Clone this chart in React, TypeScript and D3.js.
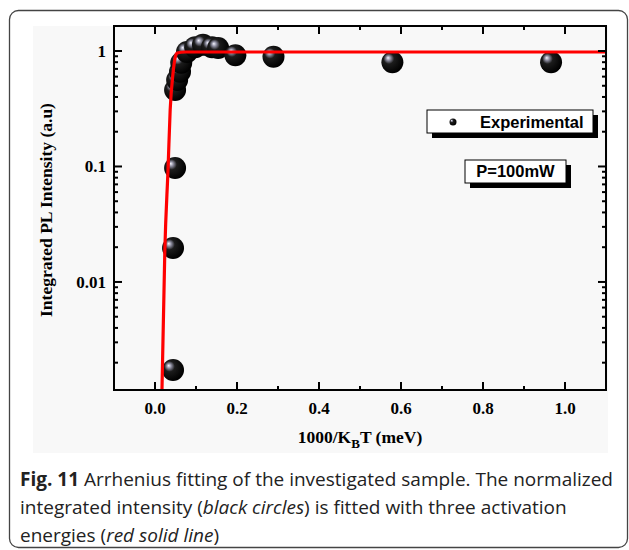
import { useMemo } from "react";
import * as d3 from "d3";

// measured points (1000/kT, normalized intensity)
const expX = [0.044, 0.044, 0.049, 0.049, 0.054, 0.061, 0.064, 0.078, 0.098, 0.117, 0.139, 0.154, 0.196, 0.289, 0.579, 0.966];
const expY = [0.00173, 0.0197, 0.097, 0.46, 0.56, 0.66, 0.79, 0.98, 1.08, 1.13, 1.08, 1.06, 0.92, 0.89, 0.8, 0.8];

// fitted curve
const fitX = [0.017, 0.024, 0.032, 0.037, 0.044, 0.049, 0.054, 0.073, 1.1];
const fitY = [0.00116, 0.0189, 0.099, 0.308, 0.645, 0.87, 0.961, 0.98, 0.98];

const xMajor = [0, 0.2, 0.4, 0.6, 0.8, 1.0];
const xMinor = [0.1, 0.3, 0.5, 0.7, 0.9];
const yMajor = [0.01, 0.1, 1];
const yLabels = ["0.01", "0.1", "1"];

const W = 629;
const H = 550;
const plot = { left: 114, right: 606, top: 26, bottom: 390 };
const serif = "'Liberation Serif', 'Times New Roman', serif";
const sans = "'Liberation Sans', Arial, sans-serif";
const capFont = "'Open Sans', sans-serif";

export default function App() {
    const x = useMemo(() => d3.scaleLinear().domain([-0.1, 1.1]).range([plot.left, plot.right]), []);
    const y = useMemo(() => d3.scaleLog().domain([0.00116, 1.646]).range([plot.bottom, plot.top]), []);

    const yMinor = useMemo(() => y.ticks().filter((v) => !yMajor.some((m) => Math.abs(m - v) < 1e-9)), [y]);

    const fitPath = useMemo(() => {
        const pts = fitX.map((v, i) => [v, fitY[i]] as [number, number]);
        return d3.line<[number, number]>().x((d) => x(d[0])).y((d) => y(d[1])).curve(d3.curveMonotoneX)(pts) ?? "";
    }, [x, y]);

    const pts = expX.map((v, i) => ({ cx: x(v), cy: y(expY[i]) }));

    return (
        <svg width={W} height={H} style={{ position: "absolute", left: 0, top: 0, background: "#fff" }}>
            <defs>
                <radialGradient id="ball" cx="0.4" cy="0.4" r="0.6" fx="0.3" fy="0.3">
                    <stop offset="0%" stopColor="#f4f4ff" />
                    <stop offset="18%" stopColor="#8a8a9c" />
                    <stop offset="40%" stopColor="#1c1c1c" />
                    <stop offset="100%" stopColor="#000" />
                </radialGradient>
                <clipPath id="clip">
                    <rect x={plot.left} y={plot.top} width={plot.right - plot.left} height={plot.bottom - plot.top} />
                </clipPath>
            </defs>

            {/* card frame */}
            <rect x={9.5} y={10.5} width={618} height={537} rx={9} fill="#fff" stroke="#444" strokeWidth={1.3} />
            <rect x={33} y={26} width={575} height={427} fill="#f8f8f8" />

            {/* points */}
            {pts.map((p, i) => (
                <circle key={`p-${i}`} cx={p.cx} cy={p.cy} r={11} fill="url(#ball)" />
            ))}
            {/* fit line on top */}
            <path d={fitPath} fill="none" stroke="#ff0000" strokeWidth={3.2} clipPath="url(#clip)" />

            {/* frame */}
            <rect x={plot.left} y={plot.top} width={plot.right - plot.left} height={plot.bottom - plot.top} fill="none" stroke="#000" strokeWidth={2} />

            {/* x ticks */}
            {xMajor.map((v, i) => (
                <g key={`xm-${i}`}>
                    <line x1={x(v)} x2={x(v)} y1={plot.bottom} y2={plot.bottom - 8} stroke="#000" strokeWidth={2} />
                    <line x1={x(v)} x2={x(v)} y1={plot.top} y2={plot.top + 8} stroke="#000" strokeWidth={2} />
                    <text x={x(v)} y={414} textAnchor="middle" fontFamily={serif} fontWeight="bold" fontSize={17}>
                        {v.toFixed(1)}
                    </text>
                </g>
            ))}
            {xMinor.map((v, i) => (
                <g key={`xn-${i}`}>
                    <line x1={x(v)} x2={x(v)} y1={plot.bottom} y2={plot.bottom - 4} stroke="#000" strokeWidth={2} />
                    <line x1={x(v)} x2={x(v)} y1={plot.top} y2={plot.top + 4} stroke="#000" strokeWidth={2} />
                </g>
            ))}

            {/* y ticks */}
            {yMajor.map((v, i) => (
                <g key={`ym-${i}`}>
                    <line x1={plot.left} x2={plot.left + 8} y1={y(v)} y2={y(v)} stroke="#000" strokeWidth={2} />
                    <line x1={plot.right} x2={plot.right - 8} y1={y(v)} y2={y(v)} stroke="#000" strokeWidth={2} />
                    <text x={106} y={y(v) + 6} textAnchor="end" fontFamily={serif} fontWeight="bold" fontSize={17}>
                        {yLabels[i]}
                    </text>
                </g>
            ))}
            {yMinor.map((v, i) => (
                <g key={`yn-${i}`}>
                    <line x1={plot.left} x2={plot.left + 4} y1={y(v)} y2={y(v)} stroke="#000" strokeWidth={2} />
                    <line x1={plot.right} x2={plot.right - 4} y1={y(v)} y2={y(v)} stroke="#000" strokeWidth={2} />
                </g>
            ))}

            {/* axis titles */}
            <text x={(plot.left + plot.right) / 2} y={443} textAnchor="middle" fontFamily={serif} fontWeight="bold" fontSize={17.5}>
                1000/K<tspan fontSize={13} dy={5}>B</tspan><tspan dy={-5}>T (meV)</tspan>
            </text>
            <text transform={`translate(52,${(plot.top + plot.bottom) / 2 + 2}) rotate(-90)`} textAnchor="middle" fontFamily={serif} fontWeight="bold" fontSize={17.5}>
                Integrated PL Intensity (a.u)
            </text>

            {/* legend */}
            <rect x={432} y={115} width={166} height={23} fill="#000" />
            <rect x={427} y={110} width={166} height={23} fill="#fff" stroke="#000" strokeWidth={1} />
            <circle cx={453} cy={122} r={3.5} fill="url(#ball)" />
            <text x={480} y={128} fontFamily={sans} fontWeight="bold" fontSize={16.5}>Experimental</text>

            <rect x={470} y={165} width={101} height={23} fill="#000" />
            <rect x={465} y={160} width={101} height={23} fill="#fff" stroke="#000" strokeWidth={1} />
            <text x={515.5} y={177} textAnchor="middle" fontFamily={sans} fontWeight="bold" fontSize={16.5}>P=100mW</text>

            {/* caption */}
            <g fontFamily={capFont} fontSize={19} fill="#222">
                <text x={20} y={486}>
                    <tspan fontWeight="bold">Fig. 11</tspan> Arrhenius fitting of the investigated sample. The normalized
                </text>
                <text x={20} y={514}>
                    integrated intensity (<tspan fontStyle="italic">black circles</tspan>) is fitted with three activation
                </text>
                <text x={20} y={542}>
                    energies (<tspan fontStyle="italic">red solid line</tspan>)
                </text>
            </g>
        </svg>
    );
}
